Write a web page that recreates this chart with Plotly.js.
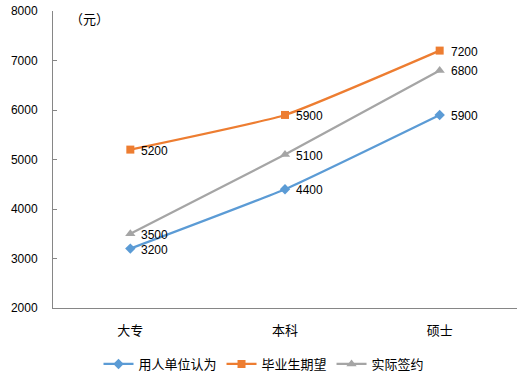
<!DOCTYPE html>
<html>
<head>
<meta charset="utf-8">
<script src="https://cdn.plot.ly/plotly-3.0.1.min.js"></script>
<style>html,body{margin:0;padding:0;background:#fff;}#chart{width:528px;height:384px;}</style>
</head>
<body>
<div id="chart"></div>
<script>
var categories = ['大专', '本科', '硕士'];
var employerView = [3200, 4400, 5900];
var graduateExpect = [5200, 5900, 7200];
var actualSigned = [3500, 5100, 6800];
var seriesNames = ['用人单位认为', '毕业生期望', '实际签约'];
var yTicks = [2000, 3000, 4000, 5000, 6000, 7000, 8000];

var FONT = 'Liberation Sans, Noto Sans CJK SC, sans-serif';
var CJK = 'Noto Sans CJK SC, sans-serif';

function mk(name, vals, color, symbol, size) {
  return {
    type: 'scatter',
    mode: 'lines+markers',
    name: name,
    x: categories,
    y: vals,
    line: {color: color, width: 2.25, shape: 'spline', smoothing: 0.4},
    marker: {color: color, symbol: symbol, size: size},
    cliponaxis: false
  };
}

var data = [
  mk(seriesNames[0], employerView, '#5B9BD5', 'diamond', 8),
  mk(seriesNames[1], graduateExpect, '#ED7D31', 'square', 8),
  mk(seriesNames[2], actualSigned, '#A5A5A5', 'triangle-up', 9)
];

var annotations = [{
  text: '（元）', xref: 'paper', yref: 'paper', x: 0.078, y: 0.975,
  xanchor: 'center', yanchor: 'middle', showarrow: false,
  font: {family: CJK, size: 13, color: '#000'}
}];
[employerView, graduateExpect, actualSigned].forEach(function (vals) {
  vals.forEach(function (v, i) {
    annotations.push({
      text: String(v), xref: 'x', yref: 'y', x: categories[i], y: v,
      xanchor: 'left', yanchor: 'middle', xshift: 9, yshift: -1,
      showarrow: false, font: {family: FONT, size: 12, color: '#000'}
    });
  });
});

var layout = {
  width: 528, height: 384,
  margin: {l: 53, r: 11, t: 11, b: 76},
  paper_bgcolor: '#fff', plot_bgcolor: '#fff',
  font: {family: FONT, size: 12, color: '#000'},
  showlegend: true,
  legend: {
    orientation: 'h', xref: 'container', yref: 'container',
    x: 0.5, xanchor: 'center', y: 0.052, yanchor: 'middle',
    font: {family: CJK, size: 13, color: '#000'},
    itemwidth: 30, tracegroupgap: 0
  },
  xaxis: {
    type: 'category', range: [-0.5, 2.5],
    showline: true, linecolor: '#868686', linewidth: 1,
    showgrid: false, zeroline: false, ticks: '',
    tickfont: {family: CJK, size: 13, color: '#000'},
    ticklabelstandoff: 10
  },
  yaxis: {
    range: [2000, 8000], tickvals: yTicks, ticktext: yTicks.map(String),
    showline: true, linecolor: '#868686', linewidth: 1,
    showgrid: false, zeroline: false,
    ticks: 'inside', ticklen: 4, tickcolor: '#868686',
    tickfont: {family: FONT, size: 12, color: '#000'},
    ticklabelstandoff: 12
  },
  annotations: annotations
};

Plotly.newPlot('chart', data, layout, {displayModeBar: false, staticPlot: true});
</script>
</body>
</html>
